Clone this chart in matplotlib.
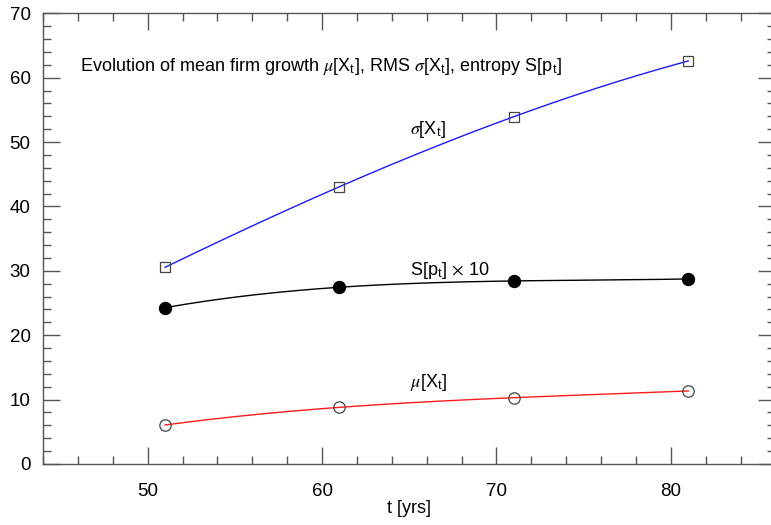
import numpy as np
import matplotlib
matplotlib.use("Agg")
import matplotlib.pyplot as plt

plt.rcParams['font.family'] = ['Liberation Sans', 'DejaVu Sans']
plt.rcParams['mathtext.fontset'] = 'stix'

# Years and the three tracked quantities
t_years = [51, 61, 71, 81]
sigma_X = [30.55, 43.07, 53.95, 62.6]      # RMS sigma[X_t]
entropy_x10 = [24.28, 27.45, 28.43, 28.74]  # S[p_t] x 10
mu_X = [6.06, 8.8, 10.3, 11.34]            # mean mu[X_t]

x_ticks = [50, 60, 70, 80]
y_ticks = [0, 10, 20, 30, 40, 50, 60, 70]

fig = plt.figure(figsize=(7.71, 5.25), dpi=100)
ax = fig.add_axes([0.0558, 0.1162, 0.95, 0.8585])

t = np.array(t_years, dtype=float)
t_fine = np.linspace(t.min(), t.max(), 200)


def smooth(vals):
    coef = np.polyfit(t, np.array(vals, dtype=float), len(vals) - 1)
    return np.polyval(coef, t_fine)


edge = '#444444'
ax.plot(t_fine, smooth(sigma_X), color='#1a1aff', lw=1.0, zorder=2)
ax.plot(t, sigma_X, ls='none', marker='s', ms=7.2, mfc='none', mec=edge, mew=0.9, zorder=3)

ax.plot(t_fine, smooth(entropy_x10), color='black', lw=1.0, zorder=2)
ax.plot(t, entropy_x10, ls='none', marker='o', ms=8.6, mfc='black', mec='black', zorder=3)

ax.plot(t_fine, smooth(mu_X), color='#ff1a1a', lw=1.0, zorder=2)
ax.plot(t, mu_X, ls='none', marker='o', ms=8.2, mfc='none', mec=edge, mew=0.9, zorder=3)

fs = 13
ax.text(46.1, 61.8,
        r"Evolution of mean firm growth $\mu$[X$_\mathregular{t}$], RMS $\sigma$[X$_\mathregular{t}$], entropy S[p$_\mathregular{t}$]",
        fontsize=fs, va='center', ha='left')
ax.text(65.05, 51.9, r"$\sigma$[X$_\mathregular{t}$]", fontsize=fs, va='center', ha='left')
ax.text(65.05, 30.1, r"S[p$_\mathregular{t}$] $\times$ 10", fontsize=fs, va='center', ha='left')
ax.text(65.05, 12.6, r"$\mu$[X$_\mathregular{t}$]", fontsize=fs, va='center', ha='left')

ax.set_xlim(44, 86)
ax.set_ylim(0, 70)
ax.set_xticks(x_ticks)
ax.set_yticks(y_ticks)
ax.set_xticks(np.arange(44, 87, 2), minor=True)
ax.set_yticks(np.arange(0, 71, 2), minor=True)
ax.tick_params(which='both', direction='in', top=True, right=True, color='#555555', labelsize=13.5)
ax.tick_params(which='major', length=12, width=1.0)
ax.tick_params(axis='x', which='major', pad=14)
ax.tick_params(axis='y', which='major', pad=9)
ax.tick_params(which='minor', length=6, width=1.0)
for s in ax.spines.values():
    s.set_color('#555555')
    s.set_linewidth(1.0)

ax.set_xlabel('t [yrs]', fontsize=fs, labelpad=0)

fig.savefig('out.png', dpi=100)
